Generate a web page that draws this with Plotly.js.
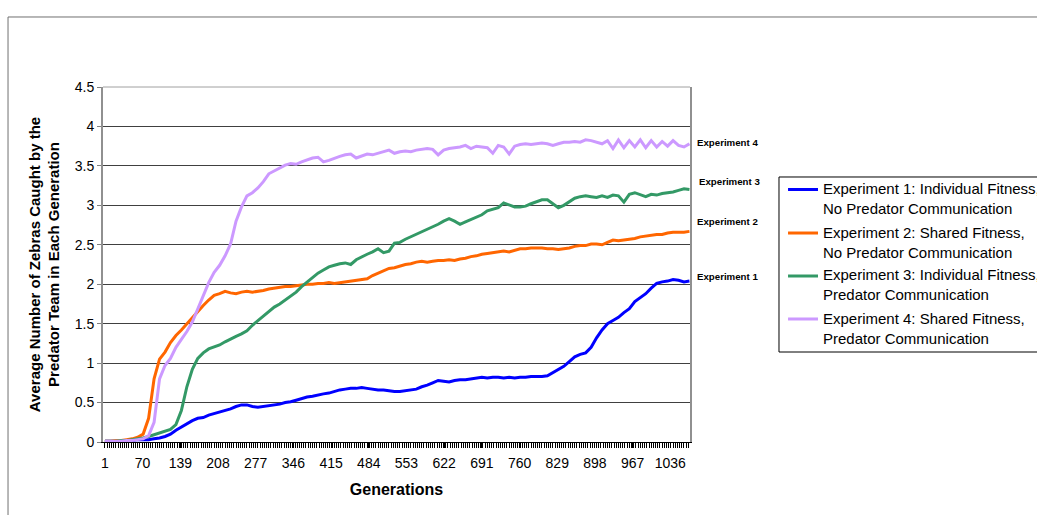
<!DOCTYPE html>
<html>
<head>
<meta charset="utf-8">
<script src="https://cdn.plot.ly/plotly-3.0.1.min.js"></script>
<style>
html,body{margin:0;padding:0;background:#fff;}
#chart{width:1037px;height:515px;}
</style>
</head>
<body>
<div id="chart"></div>
<script>
// Generation index of each sampled point
const generations = [
  1,11,21,31,41,51,61,71,81,91,
  101,111,121,131,141,151,161,171,181,191,
  201,211,221,231,241,251,261,271,281,291,
  301,311,321,331,341,351,361,371,381,391,
  401,411,421,431,441,451,461,471,481,491,
  501,511,521,531,541,551,561,571,581,591,
  601,611,621,631,641,651,661,671,681,691,
  701,711,721,731,741,751,761,771,781,791,
  801,811,821,831,841,851,861,871,881,891,
  901,911,921,931,941,951,961,971,981,991,
  1001,1011,1021,1031,1041,1051,1061,1071
];

// Experiment 1: Individual Fitness, No Predator Communication
const exp1 = [
  0.01,0.01,0.01,0.02,0.02,0.02,0.03,0.03,0.03,0.04,
  0.05,0.07,0.10,0.15,0.19,0.24,0.27,0.30,0.31,0.34,
  0.36,0.38,0.40,0.42,0.45,0.47,0.47,0.45,0.44,0.45,
  0.46,0.47,0.48,0.50,0.51,0.53,0.55,0.57,0.58,0.60,
  0.61,0.62,0.64,0.66,0.67,0.68,0.68,0.69,0.68,0.67,
  0.66,0.66,0.65,0.64,0.64,0.65,0.66,0.67,0.70,0.72,
  0.75,0.78,0.77,0.76,0.78,0.79,0.79,0.80,0.81,0.82,
  0.81,0.82,0.82,0.81,0.82,0.81,0.82,0.82,0.83,0.83,
  0.83,0.84,0.88,0.92,0.96,1.02,1.08,1.11,1.13,1.20,
  1.32,1.42,1.50,1.54,1.58,1.64,1.69,1.78,1.83,1.88,
  1.95,2.01,2.03,2.04,2.06,2.05,2.03,2.04
];

// Experiment 2: Shared Fitness, No Predator Communication
const exp2 = [
  0.01,0.01,0.02,0.02,0.03,0.04,0.06,0.10,0.30,0.80,
  1.05,1.14,1.26,1.35,1.42,1.50,1.58,1.65,1.73,1.80,
  1.86,1.88,1.91,1.89,1.88,1.90,1.91,1.90,1.91,1.92,
  1.94,1.95,1.96,1.97,1.97,1.98,1.99,2.00,2.00,2.01,
  2.01,2.02,2.01,2.02,2.03,2.04,2.05,2.06,2.07,2.11,
  2.14,2.18,2.20,2.21,2.23,2.25,2.26,2.28,2.29,2.28,
  2.29,2.30,2.30,2.31,2.30,2.32,2.33,2.35,2.36,2.38,
  2.39,2.40,2.41,2.42,2.41,2.43,2.45,2.45,2.46,2.46,
  2.46,2.45,2.45,2.44,2.45,2.46,2.48,2.49,2.49,2.51,
  2.51,2.50,2.53,2.56,2.55,2.56,2.57,2.58,2.60,2.61,
  2.62,2.63,2.63,2.65,2.66,2.66,2.66,2.67
];

// Experiment 3: Individual Fitness, Predator Communication
const exp3 = [
  0.01,0.01,0.01,0.02,0.02,0.03,0.04,0.05,0.07,0.09,
  0.11,0.13,0.16,0.22,0.40,0.70,0.92,1.06,1.13,1.18,
  1.20,1.23,1.27,1.31,1.34,1.37,1.41,1.48,1.54,1.60,
  1.66,1.71,1.75,1.80,1.85,1.90,1.97,2.03,2.08,2.14,
  2.18,2.22,2.24,2.26,2.27,2.25,2.31,2.35,2.38,2.41,
  2.45,2.40,2.42,2.52,2.53,2.57,2.60,2.64,2.67,2.70,
  2.73,2.76,2.80,2.83,2.80,2.76,2.79,2.82,2.86,2.88,
  2.93,2.95,2.97,3.03,3.00,2.98,2.98,2.99,3.02,3.05,
  3.07,3.07,3.02,2.97,3.00,3.05,3.09,3.11,3.12,3.11,
  3.10,3.12,3.10,3.13,3.12,3.04,3.14,3.16,3.13,3.11,
  3.14,3.13,3.15,3.16,3.17,3.19,3.21,3.20
];

// Experiment 4: Shared Fitness, Predator Communication
const exp4 = [
  0.01,0.01,0.01,0.01,0.02,0.02,0.03,0.04,0.08,0.25,
  0.80,0.97,1.06,1.20,1.30,1.40,1.52,1.68,1.86,2.02,
  2.15,2.24,2.36,2.51,2.80,2.98,3.12,3.16,3.22,3.30,
  3.40,3.44,3.48,3.51,3.53,3.52,3.55,3.58,3.60,3.61,
  3.55,3.57,3.60,3.62,3.64,3.65,3.60,3.63,3.65,3.64,
  3.66,3.68,3.70,3.66,3.68,3.69,3.68,3.70,3.71,3.72,
  3.71,3.64,3.70,3.72,3.73,3.74,3.76,3.72,3.75,3.74,
  3.73,3.66,3.76,3.74,3.65,3.75,3.77,3.78,3.77,3.78,
  3.79,3.78,3.76,3.78,3.80,3.80,3.81,3.80,3.83,3.82,
  3.80,3.78,3.82,3.72,3.83,3.73,3.82,3.74,3.83,3.73,
  3.82,3.74,3.81,3.75,3.82,3.76,3.74,3.78
];

const seriesNames = [
  'Experiment 1: Individual Fitness,<br>No Predator Communication',
  'Experiment 2: Shared Fitness,<br>No Predator Communication',
  'Experiment 3: Individual Fitness,<br>Predator Communication',
  'Experiment 4: Shared Fitness,<br>Predator Communication'
];
const seriesLabels = ['Experiment 1','Experiment 2','Experiment 3','Experiment 4'];
const labelY = [2.10, 2.79, 3.30, 3.80];

const xTickValues = [1,70,139,208,277,346,415,484,553,622,691,760,829,898,967,1036];
const yTickValues = [0,0.5,1,1.5,2,2.5,3,3.5,4,4.5];

const colors = ['#0000FF','#FF6600','#339966','#CC99FF'];
const seriesData = [exp1, exp2, exp3, exp4];

const traces = seriesData.map((ys, i) => ({
  type: 'scatter',
  mode: 'lines',
  x: generations,
  y: ys,
  name: seriesNames[i],
  line: {color: colors[i], width: 3},
  hoverinfo: 'skip',
  showlegend: false
}));

// Right-hand series labels
const annotations = seriesLabels.map((t, i) => ({
  xref: 'paper', yref: 'y',
  x: i === 2 ? 1.0119 : 1.0085,
  y: labelY[i],
  xanchor: 'left', yanchor: 'middle',
  text: '<b>' + t + '</b>',
  showarrow: false,
  font: {size: 9.7, color: '#000'}
}));

// Hand-built legend (it is clipped by the right edge, like the original)
const legendSymbolY = [0.7113, 0.5887, 0.4676, 0.3465];
const legendTextY = [0.6852, 0.5620, 0.4423, 0.3197];
const shapes = [
  {type: 'line', xref: 'paper', yref: 'paper', x0: 0, x1: 1, y0: 1, y1: 1, line: {color: '#a0a0a0', width: 1}},
  {type: 'line', xref: 'paper', yref: 'paper', x0: -0.1618, x1: -0.1618, y0: 1.1972, y1: -0.22, line: {color: '#707070', width: 1}},
  {type: 'line', xref: 'paper', yref: 'paper', x0: -0.1618, x1: 1.62, y0: 1.1972, y1: 1.1972, line: {color: '#707070', width: 1}},
  {type: 'rect', xref: 'paper', yref: 'paper', x0: 1.1516, x1: 1.62, y0: 0.2535, y1: 0.7465, line: {color: '#000', width: 1}, fillcolor: 'rgba(255,255,255,0)'}
];
seriesNames.forEach((n, i) => {
  shapes.push({type: 'line', xref: 'paper', yref: 'paper', x0: 1.1670, x1: 1.2181,
    y0: legendSymbolY[i], y1: legendSymbolY[i], line: {color: colors[i], width: 3}});
  annotations.push({xref: 'paper', yref: 'paper', x: 1.2232, y: legendTextY[i],
    xanchor: 'left', yanchor: 'middle', align: 'left', showarrow: false,
    text: n, font: {size: 15, color: '#000'}});
});

const layout = {
  width: 1037, height: 515,
  margin: {l: 103, r: 347, t: 87, b: 73, pad: 0},
  paper_bgcolor: '#ffffff',
  plot_bgcolor: '#ffffff',
  font: {family: 'Arial, "Liberation Sans", sans-serif', size: 14, color: '#000'},
  showlegend: false,
  xaxis: {
    range: [-2.5, 1072],
    tickmode: 'array', tickvals: xTickValues, ticktext: xTickValues.map(String),
    ticks: 'outside', ticklen: 5, tickcolor: '#000', tickwidth: 1,
    ticklabelstandoff: 3,
    minor: {ticks: 'outside', dtick: 4, tick0: 1, ticklen: 5, tickcolor: '#000', tickwidth: 1, showgrid: false},
    showline: true, linecolor: '#000', linewidth: 1,
    showgrid: false, zeroline: false,
    tickfont: {size: 14},
    title: {text: '<b>Generations</b>', font: {size: 16}, standoff: 14}
  },
  yaxis: {
    range: [0, 4.5],
    tickmode: 'array', tickvals: yTickValues, ticktext: yTickValues.map(String),
    ticks: 'outside', ticklen: 4, tickcolor: '#808080',
    showline: true, linecolor: '#909090', linewidth: 2, mirror: true,
    showgrid: true, gridcolor: '#404040', gridwidth: 1,
    zeroline: false,
    tickfont: {size: 14},
    title: {text: '<b>Average Number of Zebras Caught by the<br>Predator Team in Each Generation</b>', font: {size: 15}, standoff: 11}
  },
  annotations: annotations,
  shapes: shapes
};

Plotly.newPlot('chart', traces, layout, {displayModeBar: false, staticPlot: true});
</script>
</body>
</html>
